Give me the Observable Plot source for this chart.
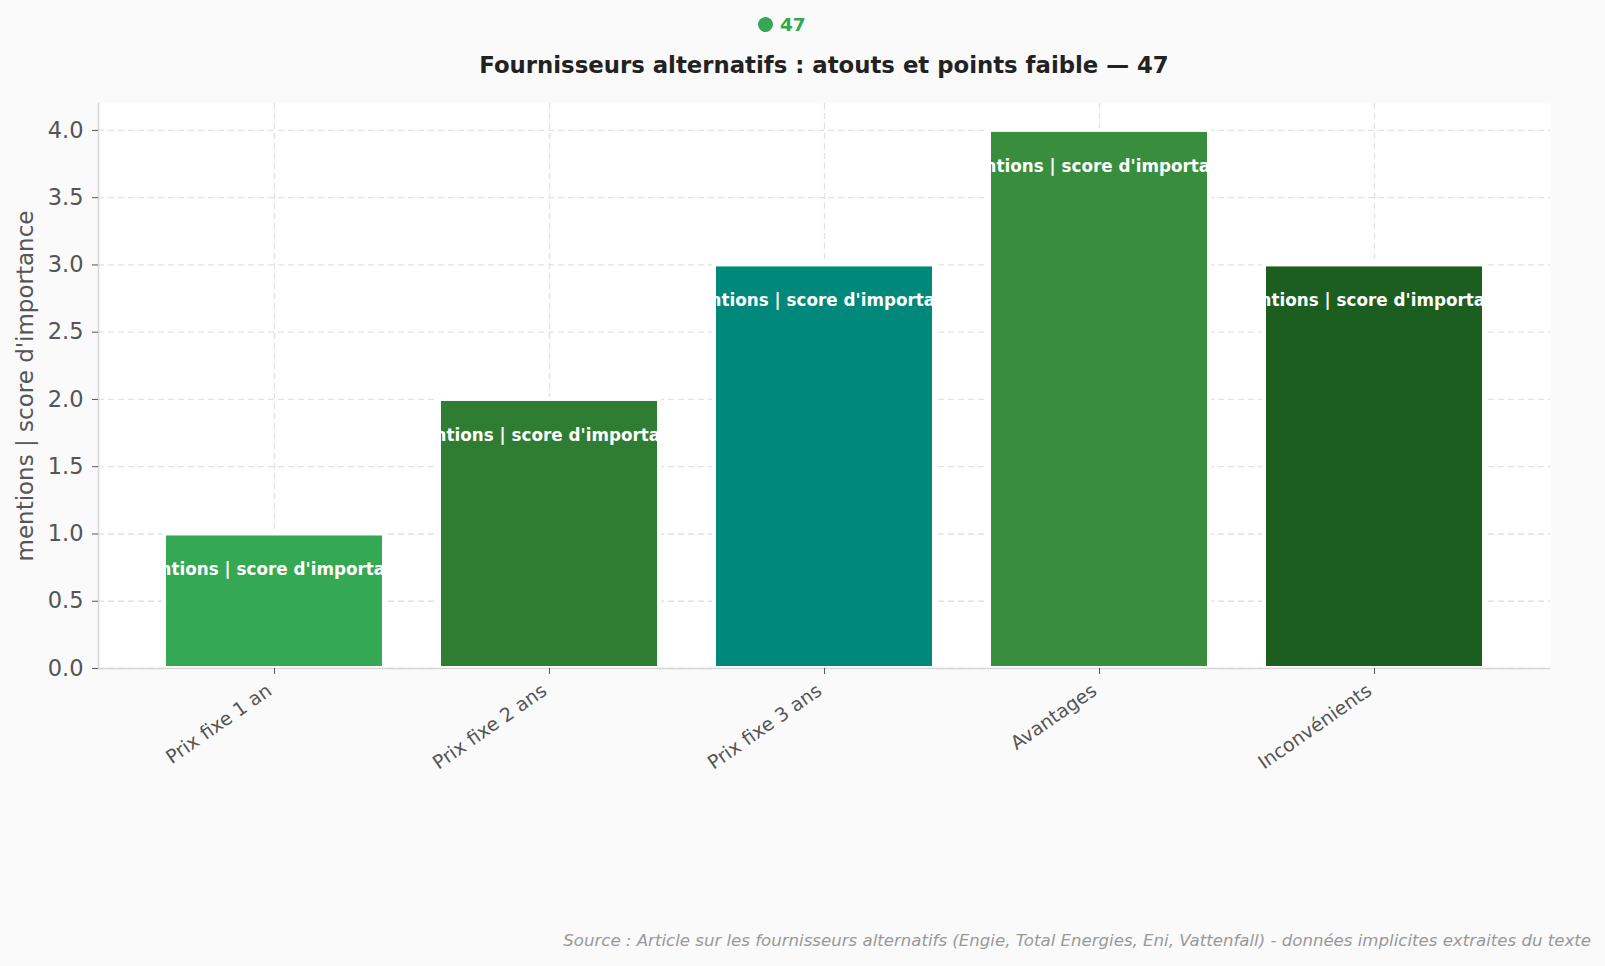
<!DOCTYPE html>
<html><head><meta charset="utf-8">
<script src="https://cdn.jsdelivr.net/npm/d3@7"></script>
<script src="https://cdn.jsdelivr.net/npm/@observablehq/plot@0.6"></script>
<style>
body{margin:0;background:#fafafa;font-family:"DejaVu Sans",sans-serif;}
#wrap{position:relative;width:1605px;height:966px;overflow:hidden;}
#legend{position:absolute;left:758px;top:13px;line-height:24px;font-size:18.5px;font-weight:bold;color:#34a853;white-space:nowrap;}
#legend .dot{display:inline-block;width:15px;height:15px;border-radius:50%;background:#34a853;margin-right:7px;vertical-align:-1px;}
#title{position:absolute;left:98px;width:1452px;top:51px;line-height:28px;text-align:center;font-size:22.8px;font-weight:bold;color:#222;white-space:nowrap;}
#chart{position:absolute;left:0;top:91px;}
#caption{position:absolute;right:14px;top:930px;line-height:22px;font-size:16.6px;font-style:italic;color:#999;white-space:nowrap;}
</style></head><body>
<div id="wrap">
<div id="legend"><span class="dot"></span>47</div>
<div id="title">Fournisseurs alternatifs : atouts et points faible — 47</div>
<div id="chart"></div>
<div id="caption">Source : Article sur les fournisseurs alternatifs (Engie, Total Energies, Eni, Vattenfall) - données implicites extraites du texte</div>
</div>
<script>
const categories = ["Prix fixe 1 an", "Prix fixe 2 ans", "Prix fixe 3 ans", "Avantages", "Inconvénients"];
const values = [1, 2, 3, 4, 3];
const colors = ["#34a853", "#2e7d32", "#00897b", "#388e3c", "#1b5e20"];
const barLabel = "mentions | score d'importance";
const yTicks = [0, 0.5, 1, 1.5, 2, 2.5, 3, 3.5, 4];
const yLabel = "mentions | score d'importance";

const data = categories.map((c, i) => ({category: c, value: values[i], color: colors[i]}));

const chart = Plot.plot({
  width: 1605,
  height: 810,
  marginTop: 12,
  marginBottom: 233,
  marginLeft: 98,
  marginRight: 55,
  style: {fontFamily: "DejaVu Sans, sans-serif", background: "transparent", color: "#555"},
  x: {domain: categories, paddingInner: 0.2, paddingOuter: 0.24, label: null},
  y: {domain: [0, 4.2], label: null},
  color: {type: "identity"},
  marks: [
    Plot.frame({fill: "white", stroke: null}),
    Plot.gridY(yTicks, {stroke: "#e2e2e2", strokeOpacity: 1, strokeDasharray: "6,4", strokeWidth: 1.3}),
    Plot.gridX({stroke: "#e2e2e2", strokeOpacity: 1, strokeDasharray: "6,4", strokeWidth: 1.3}),
    Plot.barY(data, {x: "category", y: "value", fill: "color", stroke: "white", strokeWidth: 4}),
    Plot.text(data, {x: "category", y: "value", text: () => barLabel, dy: 36, fill: "white", fontWeight: "bold", fontSize: 16.8}),
    Plot.ruleY([0], {stroke: "#d6d6d6", strokeWidth: 1.5}),
    Plot.frame({anchor: "left", stroke: "#d6d6d6", strokeWidth: 1.5}),
    Plot.axisY(yTicks, {tickFormat: d3.format(".1f"), fontSize: 22.5, tickSize: 6, tickPadding: 9, stroke: "#555", label: yLabel, labelAnchor: "center", labelArrow: "none", labelOffset: 82}),
    Plot.axisX({tickSize: 6, tickFormat: () => "", stroke: "#555", label: null}),
    Plot.axisX({tickRotate: -35, fontSize: 19, tickSize: 0, tickPadding: 20, dx: -5, fill: "#555", label: null})
  ]
});
document.getElementById("chart").appendChild(chart);

// clip each bar label to its bar
const svg = d3.select(chart);
const defs = svg.append("defs");
const rects = svg.selectAll('g[aria-label="bar"] rect').nodes();
const texts = svg.selectAll('g[aria-label="text"] text').nodes();
rects.forEach((r, i) => {
  const t = texts[i];
  if (!t) return;
  const id = "clipbar" + i;
  const wrapper = document.createElementNS("http://www.w3.org/2000/svg", "g");
  t.parentNode.insertBefore(wrapper, t);
  wrapper.appendChild(t);
  const m = wrapper.getCTM().inverse().multiply(r.getCTM());
  const x = +r.getAttribute("x"), y = +r.getAttribute("y");
  const cp = defs.append("clipPath").attr("id", id).attr("clipPathUnits", "userSpaceOnUse");
  cp.append("rect")
    .attr("x", x + m.e)
    .attr("y", y + m.f)
    .attr("width", r.getAttribute("width"))
    .attr("height", r.getAttribute("height"));
  wrapper.setAttribute("clip-path", `url(#${id})`);
});
// y-axis label size
svg.selectAll('g[aria-label="y-axis label"] text').attr("font-size", 23);
</script>
</body></html>
